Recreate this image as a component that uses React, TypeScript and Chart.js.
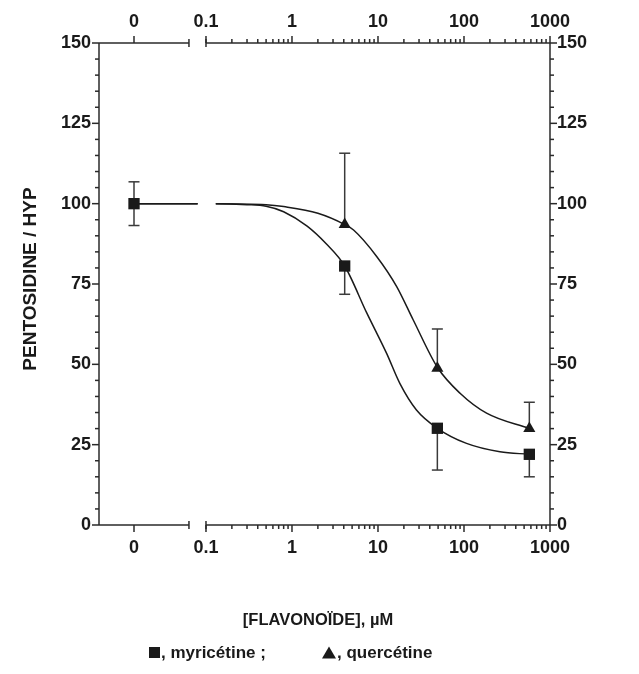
import React, { useEffect, useRef } from "react";
import { Chart, registerables } from "chart.js";

Chart.register(...registerables);

// ---- data ----
// concentrations in µM (0 = control, drawn on the left segment of the broken axis)
const myrConc = [0, 4.1, 49, 575];
const myrVal = [100, 80.6, 30.1, 22.0];
const myrErrLow = [93.2, 71.8, 17.1, 15.0];
const myrErrHigh = [106.8, null, null, null];

const querConc = [4.1, 49, 575];
const querVal = [93.5, 48.8, 30.0];
const querErrHigh = [115.7, 61.0, 38.2];

// fitted curves
const myrCurveConc = [0, 0.08, 0.13, 0.3, 0.5, 0.8, 1.5, 2.5, 4.1, 7.4, 12.6, 18, 28, 49, 107, 262, 575];
const myrCurveVal = [100, 100, 100, 99.7, 99.2, 97.5, 93, 87.5, 80.6, 66, 53.4, 44, 35.8, 30.1, 25.4, 22.8, 22.0];
const querCurveConc = [0, 0.08, 0.13, 0.5, 0.8, 2, 4.1, 5.2, 9.7, 16.5, 25.7, 49, 90, 183, 575];
const querCurveVal = [100, 100, 100, 99.7, 99.1, 97, 93.5, 91.8, 83.5, 74.2, 63.8, 49.1, 41, 34.8, 30.0];

const xTickLabels = ["0", "0.1", "1", "10", "100", "1000"];
const xTickConc = [0, 0.1, 1, 10, 100, 1000];
const yTicks = [0, 25, 50, 75, 100, 125, 150];

// ---- broken axis mapping ----
const ZERO_POS = -1.837;
const X_MIN = -2.244;
const X_MAX = 3;
const BREAK_L = -1.198;
const BREAK_R = -1;
const pos = (c: number) => (c === 0 ? ZERO_POS : Math.log10(c));

const W = 623;
const H = 658;
const AREA = { left: 91, right: 542, top: 35, bottom: 517 };
const FONT = "'Liberation Sans', Arial, Helvetica, sans-serif";
const INK = "#1a1a1a";
const AXIS = "#2a2a2a";

const axesPlugin = {
  id: "axesPlugin",
  beforeDatasetsDraw(chart: any) {
    const { ctx, chartArea: a, scales } = chart;
    const x = scales.x;
    const y = scales.y;
    const line = (x1: number, y1: number, x2: number, y2: number) => {
      ctx.beginPath();
      ctx.moveTo(x1, y1);
      ctx.lineTo(x2, y2);
      ctx.stroke();
    };
    ctx.save();
    ctx.strokeStyle = AXIS;
    ctx.lineWidth = 1.5;
    line(a.left, a.top, a.left, a.bottom);
    line(a.right, a.top, a.right, a.bottom);
    const bl = x.getPixelForValue(BREAK_L);
    const br = x.getPixelForValue(BREAK_R);
    for (const yy of [a.top, a.bottom]) {
      line(a.left, yy, bl, yy);
      line(br, yy, a.right, yy);
      line(bl, yy - 4, bl, yy + 4);
      line(br, yy - 4, br, yy + 4);
    }
    // x ticks
    for (const c of xTickConc) {
      const px = x.getPixelForValue(pos(c));
      line(px, a.bottom, px, a.bottom + 7);
      line(px, a.top, px, a.top - 7);
    }
    for (let d = -1; d <= 2; d++) {
      for (let k = 2; k <= 9; k++) {
        const px = x.getPixelForValue(d + Math.log10(k));
        line(px, a.bottom, px, a.bottom + 4);
        line(px, a.top, px, a.top - 4);
      }
    }
    // y ticks
    for (let v = 0; v <= 150; v += 5) {
      const py = y.getPixelForValue(v);
      const len = v % 25 === 0 ? 7 : 4;
      line(a.left - len, py, a.left, py);
      line(a.right, py, a.right + len, py);
    }
    // error bars
    ctx.strokeStyle = "#3a3a3a";
    ctx.lineWidth = 1.5;
    const bar = (c: number, v: number, e: number | null) => {
      if (e === null) return;
      const px = x.getPixelForValue(pos(c));
      const p0 = y.getPixelForValue(v);
      const p1 = y.getPixelForValue(e);
      line(px, p0, px, p1);
      line(px - 5.5, p1, px + 5.5, p1);
    };
    myrConc.forEach((c, i) => {
      bar(c, myrVal[i], myrErrLow[i]);
      bar(c, myrVal[i], myrErrHigh[i]);
    });
    querConc.forEach((c, i) => bar(c, querVal[i], querErrHigh[i]));
    ctx.restore();
  },
  afterDraw(chart: any) {
    const { ctx } = chart;
    ctx.save();
    ctx.fillStyle = INK;
    ctx.textAlign = "center";
    ctx.textBaseline = "middle";
    // y title
    ctx.font = `bold 19px ${FONT}`;
    ctx.save();
    ctx.translate(22.5, 271);
    ctx.rotate(-Math.PI / 2);
    ctx.fillText("PENTOSIDINE / HYP", 0, 0);
    ctx.restore();
    // x title
    ctx.font = `bold 16.5px ${FONT}`;
    ctx.fillText("[FLAVONOÏDE], µM", 310, 612);
    // legend
    ctx.font = `bold 17px ${FONT}`;
    ctx.textAlign = "left";
    ctx.fillRect(141, 639, 11, 11);
    ctx.fillText(", myricétine ;", 153, 645);
    ctx.beginPath();
    ctx.moveTo(314, 650.5);
    ctx.lineTo(321, 638.5);
    ctx.lineTo(328, 650.5);
    ctx.closePath();
    ctx.fill();
    ctx.fillText(", quercétine", 329, 645);
    ctx.restore();
  },
};

const xScale = (position: "top" | "bottom", size: number) => ({
  type: "linear" as const,
  position,
  min: X_MIN,
  max: X_MAX,
  afterBuildTicks: (s: any) => {
    s.ticks = xTickConc.map((c) => ({ value: pos(c) }));
  },
  afterFit: (s: any) => {
    s.height = size;
  },
  grid: { display: true, drawOnChartArea: false, drawTicks: true, tickLength: 7, tickColor: "rgba(0,0,0,0)" },
  border: { display: false },
  ticks: {
    autoSkip: false,
    maxRotation: 0,
    padding: position === "bottom" ? 5 : 3,
    color: INK,
    font: { family: FONT, size: 18, weight: "bold" as const },
    callback: (_v: any, i: number) => xTickLabels[i],
  },
});

const yScale = (position: "left" | "right", size: number) => ({
  type: "linear" as const,
  position,
  min: 0,
  max: 150,
  afterBuildTicks: (s: any) => {
    s.ticks = yTicks.map((v) => ({ value: v }));
  },
  afterFit: (s: any) => {
    s.width = size;
  },
  grid: { display: true, drawOnChartArea: false, drawTicks: true, tickLength: 7, tickColor: "rgba(0,0,0,0)" },
  border: { display: false },
  ticks: {
    padding: position === "left" ? 1 : 0,
    color: INK,
    font: { family: FONT, size: 18, weight: "bold" as const },
    callback: (v: any) => String(v),
  },
});

export default function App() {
  const ref = useRef<HTMLCanvasElement | null>(null);
  useEffect(() => {
    if (!ref.current) return;
    const gap = (ctx: any) => (ctx.p0DataIndex === 1 ? "rgba(0,0,0,0)" : undefined);
    const chart = new Chart(ref.current, {
      type: "line",
      data: {
        datasets: [
          {
            label: "myricétine",
            data: myrConc.map((c, i) => ({ x: pos(c), y: myrVal[i] })),
            showLine: false,
            pointStyle: "rect",
            pointRadius: 8,
            backgroundColor: INK,
            borderColor: INK,
            borderWidth: 0,
          },
          {
            label: "quercétine",
            data: querConc.map((c, i) => ({ x: pos(c), y: querVal[i] })),
            showLine: false,
            pointStyle: "triangle",
            pointRadius: 7,
            backgroundColor: INK,
            borderColor: INK,
            borderWidth: 0,
          },
          {
            label: "fit myr",
            data: myrCurveConc.map((c, i) => ({ x: pos(c), y: myrCurveVal[i] })),
            pointRadius: 0,
            borderColor: INK,
            borderWidth: 1.5,
            cubicInterpolationMode: "monotone",
            segment: { borderColor: gap },
          },
          {
            label: "fit quer",
            data: querCurveConc.map((c, i) => ({ x: pos(c), y: querCurveVal[i] })),
            pointRadius: 0,
            borderColor: INK,
            borderWidth: 1.5,
            cubicInterpolationMode: "monotone",
            segment: { borderColor: gap },
          },
        ],
      },
      options: {
        responsive: false,
        animation: false,
        devicePixelRatio: 1,
        layout: { padding: 0 },
        plugins: { legend: { display: false }, tooltip: { enabled: false } },
        scales: {
          x: xScale("bottom", H - AREA.bottom),
          x2: xScale("top", AREA.top),
          y: yScale("left", AREA.left),
          y2: yScale("right", W - AREA.right),
        },
      },
      plugins: [axesPlugin],
    } as any);
    return () => chart.destroy();
  }, []);
  return (
    <div style={{ width: W, height: H }}>
      <canvas ref={ref} width={W} height={H} />
    </div>
  );
}
